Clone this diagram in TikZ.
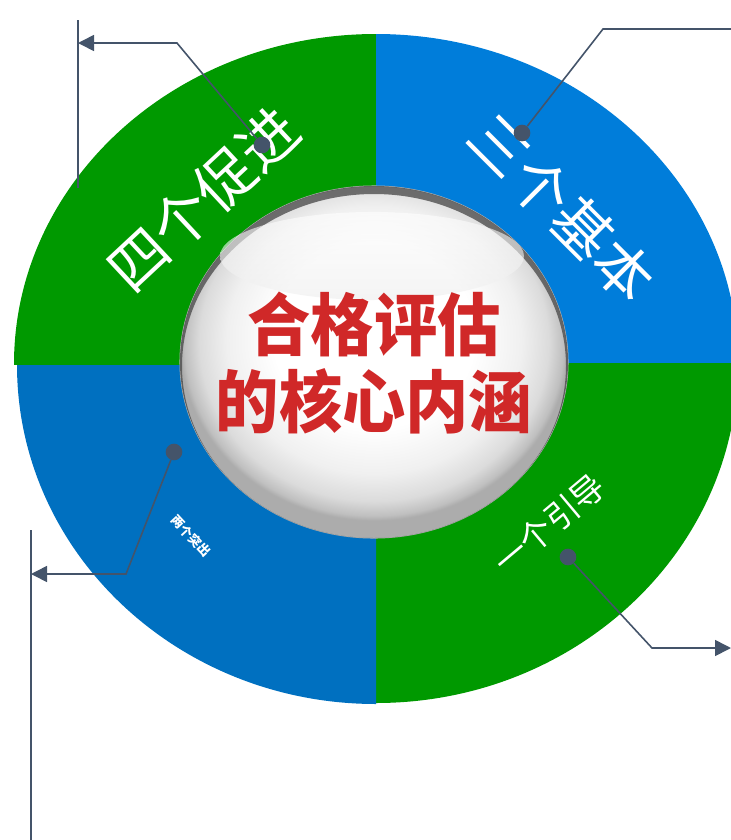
\documentclass[tikz,border=0pt]{standalone}
\usepackage{fontspec}
\usepackage{graphicx}
\newfontfamily\cjk{Noto Sans CJK SC}
\usetikzlibrary{arrows.meta}
\definecolor{ringgreen}{RGB}{0,153,0}
\definecolor{ringblueA}{RGB}{0,125,218}
\definecolor{ringblueB}{RGB}{0,112,192}
\definecolor{callout}{RGB}{68,84,106}
\definecolor{titlered}{RGB}{208,40,40}
\pgfdeclareradialshading{spheresh}{\pgfpoint{0bp}{5bp}}{color(0bp)=(white); color(13bp)=(white); color(19bp)=(gray!12); color(22.5bp)=(gray!28); color(24.4bp)=(gray!50); color(25bp)=(gray!65); color(50bp)=(gray!65)}
\begin{document}
\begin{tikzpicture}[x=0.75pt,y=-0.75pt,
  callline/.style={draw=callout, line width=1.2pt},
  arrowline/.style={callline, -{Triangle[length=12pt,width=12pt]}},
  cdot/.style={circle, fill=callout, inner sep=0pt, minimum size=12.5pt},
  ringlabel/.style={text=white, inner sep=0pt, font=\cjk\fontsize{44}{50}\selectfont}]
\useasboundingbox (0,0) rectangle (731,840);
\clip (0,0) rectangle (731,840);
% ring quadrants
\begin{scope}\clip (0,0) rectangle (376,364);
  \fill[ringgreen] (376,364) ellipse [x radius=362, y radius=330];\end{scope}
\begin{scope}\clip (376,0) rectangle (760,363);
  \fill[ringblueA] (376,363) ellipse [x radius=362, y radius=329];\end{scope}
\begin{scope}\clip (376,363) rectangle (760,840);
  \fill[ringgreen] (376,363) ellipse [x radius=362, y radius=340];\end{scope}
\begin{scope}\clip (0,365) rectangle (376,840);
  \fill[ringblueB] (376,365) ellipse [x radius=359, y radius=339];\end{scope}
% sphere
\shade[shading=spheresh, draw=gray!60, line width=0.8pt] (374,362) ellipse [x radius=194, y radius=176];
\fill[gray!55!black, opacity=0.75, even odd rule] (374,362) ellipse [x radius=194, y radius=176]
  (374,366) ellipse [x radius=192, y radius=172];
\shade[top color=white, bottom color=gray!14, opacity=0.6] (372,256) ellipse [x radius=152, y radius=44];
% title
\node[text=titlered, align=center, inner sep=0pt,
  font=\cjk\bfseries\fontsize{51}{58}\selectfont] (title) at (374,363)
  {\scalebox{0.93}[1]{合格评估}\\\scalebox{0.93}[1]{的核心内涵}};
% ring labels
\node[ringlabel, rotate=43] (l1) at (203,199) {四个促进};
\node[ringlabel, rotate=-45] (l2) at (562,208) {三个基本};
\node[ringlabel, rotate=40, font=\cjk\fontsize{25}{28}\selectfont] (l3) at (549,524) {一个引导};
\node[ringlabel, rotate=-47, font=\cjk\bfseries\fontsize{9.5}{11}\selectfont] (l4) at (191,536) {两个突出};
% callouts
\coordinate (b1) at (177,43);
\coordinate (t1) at (78,43);
\coordinate (v1a) at (78,20);
\coordinate (v1b) at (78,188);
\coordinate (b2) at (603,29);
\coordinate (t2) at (740,29);
\coordinate (b3) at (652,648);
\coordinate (t3) at (731,648);
\coordinate (b4) at (126,574);
\coordinate (t4) at (31,574);
\coordinate (v4a) at (31,530);
\coordinate (v4b) at (31,845);
\node[cdot] (d1) at (262,145) {};
\node[cdot] (d2) at (522,133) {};
\node[cdot] (d3) at (568,557) {};
\node[cdot] (d4) at (174,452) {};
\draw[arrowline] (d1) -- (b1) -- (t1);
\draw[callline] (v1a) -- (v1b);
\draw[callline] (d2) -- (b2) -- (t2);
\draw[arrowline] (d3) -- (b3) -- (t3);
\draw[arrowline] (d4) -- (b4) -- (t4);
\draw[callline] (v4a) -- (v4b);
\end{tikzpicture}
\end{document}
